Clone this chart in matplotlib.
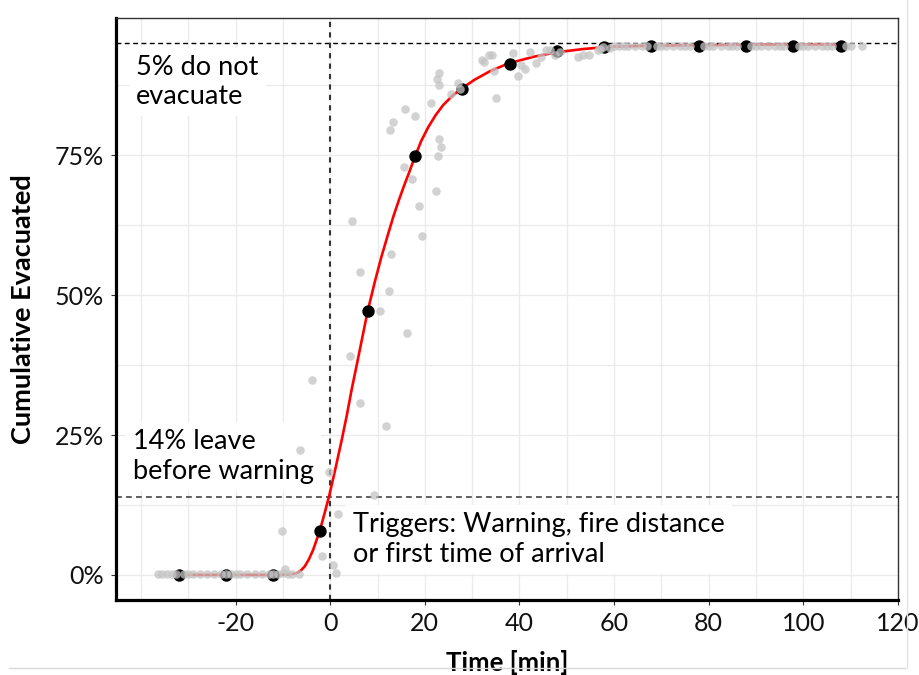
import matplotlib
matplotlib.use("Agg")
import matplotlib.pyplot as plt
from matplotlib.lines import Line2D

plt.rcParams['font.family'] = ['Lato', 'DejaVu Sans']

# ---- data (time in minutes, cumulative evacuated in %) ----
bin_x = [-32, -22, -12, -2.2, 7.9, 17.9, 27.8, 37.9, 47.9, 57.8, 67.8, 77.9, 87.9, 97.8, 107.9]
bin_y = [0, 0, 0, 7.9, 47.1, 74.8, 86.8, 91.4, 93.6, 94.3, 94.5, 94.6, 94.6, 94.6, 94.6]

fit_x = [-32, -20, -12, -8.5, -7.1, -6.2, -5.4, -4.5, -3.6, -2.2, -1.2, -0.2, 1.1, 2.4, 3.5,
         4.5, 6.2, 7.9, 9.4, 10.8, 12.4, 13.4, 14.6, 15.8, 16.8, 17.7, 19.2, 20.7, 22.3,
         23.9, 25.9, 27.9, 30.5, 33.7, 37.6, 42.9, 47.8, 53.5, 59.1, 68, 80, 95, 108]
fit_y = [0, 0, 0, 0.05, 0.3, 0.8, 1.5, 2.8, 4.5, 7.9, 11, 14.2, 19, 24, 28.5,
         33, 40, 47.1, 52.3, 56.8, 61.4, 64.2, 67.2, 70.0, 72.2, 74.3, 77.5, 80.0, 82.2,
         84.0, 85.7, 87.0, 88.5, 90.0, 91.4, 92.6, 93.4, 94.0, 94.4, 94.6, 94.7, 94.8, 94.8]

obs_x = [-36.5, -35.5, -34.5, -33.5, -32.5, -31, -30, -29, -27.5, -26, -24.5, -23, -22, -21,
         -20, -19, -17.5, -16, -14.5, -13, -12, -11, -10, -9, -8, -6.5,
         -9.6, -1.7, 0.6, 1.3,
         -10.2, 1.7, 9.2, -0.3, -6.3, 11.7, 6.3, -3.8, 4.2, 16.3, 10.6, 12.5, 6.3, 12.9,
         19.5, 4.6, 18.7, 22.4, 17.3, 15.6, 22.7, 23.4, 22.9, 12.6, 13.2, 18.0, 15.8, 21.3,
         25.6, 35.1, 22.9, 27.0, 22.5, 22.9, 34.6, 32.0, 32.4, 33.5, 34.3, 39.7, 40.4, 41.1,
         38.6, 42.2, 43.6, 44.6, 45.7, 46.4, 47.5, 48.5, 52.4, 53.4, 54.8, 56.6, 57.7, 57.0,
         59.1, 27.4,
         60, 61, 62, 63, 64.5, 66, 67, 69, 70, 71, 72.5, 74, 75, 76, 79, 80, 81, 82.5, 84,
         85, 86, 89, 90, 91, 92.5, 94, 95, 96, 99, 100, 101, 102.5, 104, 105, 106, 109, 110,
         112.5]
obs_y = [0.1, 0.1, 0.1, 0.1, 0.1, 0.1, 0.1, 0.1, 0.1, 0.1, 0.1, 0.1, 0.1, 0.1,
         0.1, 0.1, 0.1, 0.1, 0.1, 0.1, 0.1, 0.1, 0.3, 0.1, 0.1, 0.1,
         1.0, 3.3, 1.8, 0.3,
         7.8, 10.9, 14.2, 18.4, 22.3, 26.6, 30.8, 34.9, 39.2, 43.2, 47.1, 50.8, 54.1, 57.4,
         60.5, 63.3, 66.0, 68.6, 70.7, 72.9, 74.8, 76.4, 78.0, 79.5, 81.0, 82.1, 83.2, 84.3,
         85.9, 85.2, 87.6, 88.0, 88.7, 89.7, 90.1, 92.1, 91.7, 92.9, 92.9, 89.2, 91.1, 90.5,
         93.3, 93.4, 91.5, 92.6, 93.8, 93.9, 92.9, 93.4, 92.6, 92.9, 93.0, 93.8, 94.4, 94.0,
         94.2, 86.9,
         94.5, 94.6, 94.5, 94.6, 94.6, 94.5, 94.6, 94.6, 94.5, 94.6, 94.6, 94.5, 94.6, 94.6,
         94.6, 94.5, 94.6, 94.6, 94.6, 94.5, 94.6, 94.6, 94.6, 94.5, 94.6, 94.6, 94.6, 94.5,
         94.6, 94.6, 94.6, 94.6, 94.6, 94.6, 94.6, 94.6, 94.6, 94.6]

x_ticks = [-20, 0, 20, 40, 60, 80, 100, 120]
y_ticks = [0, 25, 50, 75]
y_tick_labels = ['0%', '25%', '50%', '75%']

no_evac_level = 95
before_warning_level = 14

# ---- figure ----
fig = plt.figure(figsize=(9.2, 6.75), dpi=100)
ax = fig.add_axes([0.126, 0.111, 0.850, 0.862])

ax.set_xlim(-45.3, 120)
ax.set_ylim(-4.5, 99.5)

ax.set_xticks(x_ticks)
ax.set_xticks(list(range(-40, 121, 10)), minor=True)
ax.set_yticks(y_ticks)
ax.set_yticklabels(y_tick_labels)
ax.set_yticks([i * 12.5 for i in range(8)], minor=True)
ax.set_xticklabels([str(v) for v in x_ticks])

ax.grid(True, which='both', color='#ebebeb', linewidth=1.0, zorder=0)
ax.set_axisbelow(True)

ax.tick_params(axis='both', which='major', length=3.5, width=0.8, color='#333333',
               labelsize=18, labelcolor='#111111', pad=5)
ax.tick_params(axis='both', which='minor', length=0)

for s in ['left', 'bottom']:
    ax.spines[s].set_linewidth(2.3)
    ax.spines[s].set_color('black')
for s in ['top', 'right']:
    ax.spines[s].set_linewidth(1.0)
    ax.spines[s].set_color('#333333')

# reference lines
ax.axhline(no_evac_level, color='black', linewidth=1.0, dashes=(3.5, 2.5), zorder=1)
ax.axhline(before_warning_level, color='#444444', linewidth=1.2, dashes=(3.5, 2.5), zorder=1)
ax.axvline(0, color='#333333', linewidth=1.5, dashes=(2.5, 2.5), zorder=1)

# annotations
box = dict(facecolor='white', edgecolor='none', pad=5)
ax.text(-41.0, 93.0, '5% do not\nevacuate', fontsize=19.5, va='top', ha='left',
        bbox=box, zorder=0.8, linespacing=1.22)
ax.text(-41.6, 26.0, '14% leave\nbefore warning', fontsize=19.5, va='top', ha='left',
        bbox=box, zorder=0.8, linespacing=1.22)
ax.text(4.8, 11.2, 'Triggers: Warning, fire distance\nor first time of arrival', fontsize=19.5,
        va='top', ha='left', bbox=box, zorder=0.8, linespacing=1.22)

# data
ax.plot(fit_x, fit_y, color='red', linewidth=1.9, zorder=2)
ax.scatter(bin_x, bin_y, s=80, color='black', zorder=3, linewidths=0)
ax.scatter(obs_x, obs_y, s=38, color='#c4c4c4', alpha=0.75, zorder=4, linewidths=0)

ax.set_xlabel('Time [min]', fontsize=18.5, fontweight='bold', labelpad=11)
ax.set_ylabel('Cumulative Evacuated', fontsize=19.5, fontweight='bold', labelpad=14)

# screenshot frame lines
fig.add_artist(Line2D([0.01, 0.984], [0.0104, 0.0104], transform=fig.transFigure,
                      color='#d9d9d9', linewidth=1.0))
fig.add_artist(Line2D([0.986, 0.986], [0.0104, 1.0], transform=fig.transFigure,
                      color='#e3e3e3', linewidth=1.0))

fig.savefig('out.png', dpi=100)
